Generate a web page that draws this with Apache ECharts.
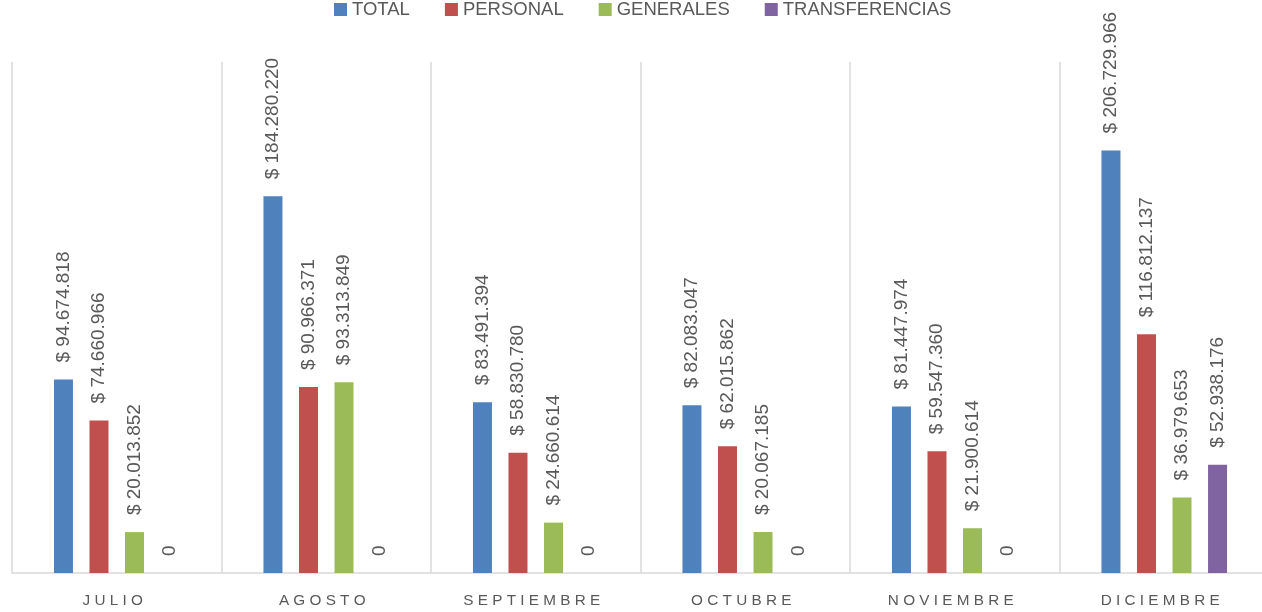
<!DOCTYPE html>
<html>
<head>
<meta charset="utf-8">
<script src="https://cdn.jsdelivr.net/npm/echarts@6/dist/echarts.min.js"></script>
<style>html,body{margin:0;padding:0;background:#fff;overflow:hidden}#c{width:1270px;height:612px}</style>
</head>
<body>
<div id="c"></div>
<script>
const categories = ['JULIO', 'AGOSTO', 'SEPTIEMBRE', 'OCTUBRE', 'NOVIEMBRE', 'DICIEMBRE'];
const seriesNames = ['TOTAL', 'PERSONAL', 'GENERALES', 'TRANSFERENCIAS'];
const total = [94674818, 184280220, 83491394, 82083047, 81447974, 206729966];
const personal = [74660966, 90966371, 58830780, 62015862, 59547360, 116812137];
const generales = [20013852, 93313849, 24660614, 20067185, 21900614, 36979653];
const transferencias = [0, 0, 0, 0, 0, 52938176];
const colors = ['#4F81BD', '#C0504D', '#9BBB59', '#8064A2'];

const FONT = '"Liberation Sans", Arial, sans-serif';

function fmt(v) {
  if (v === 0) return '0';
  return '$ ' + String(v).replace(/\B(?=(\d{3})+(?!\d))/g, '.');
}

const data = [total, personal, generales, transferencias];
const chart = echarts.init(document.getElementById('c'), null, {renderer: 'canvas'});
chart.setOption({
  animation: false,
  color: colors,
  legend: {
    top: 0, left: 334, padding: 0,
    itemWidth: 13, itemHeight: 13, itemGap: 35,
    icon: 'rect',
    textStyle: {color: '#595959', fontSize: 18.5, fontFamily: FONT}
  },
  grid: {left: 12, top: 62, right: 1, bottom: 39, containLabel: false},
  xAxis: {
    type: 'category',
    data: categories,
    axisLine: {lineStyle: {color: '#d9d9d9', width: 1.5}},
    axisTick: {show: false},
    splitLine: {show: true, interval: 0, lineStyle: {color: '#d9d9d9', width: 1.5}},
    axisLabel: {
      interval: 0,
      color: '#595959', fontSize: 15.3, fontFamily: FONT, margin: 20,
      padding: [0, 8, 0, 0],
      formatter: v => v.split('').join(' ')
    }
  },
  yAxis: {
    type: 'value', min: 0, max: 250000000,
    show: false, splitLine: {show: false}
  },
  series: seriesNames.map((n, i) => ({
    name: n,
    type: 'bar',
    data: data[i],
    barWidth: 19,
    barGap: '87%',
    label: {
      show: true,
      position: 'top',
      rotate: 90,
      align: 'left',
      verticalAlign: 'middle',
      distance: 17,
      color: '#595959',
      fontSize: 19,
      fontFamily: FONT,
      formatter: p => fmt(p.value)
    }
  }))
});
</script>
</body>
</html>
